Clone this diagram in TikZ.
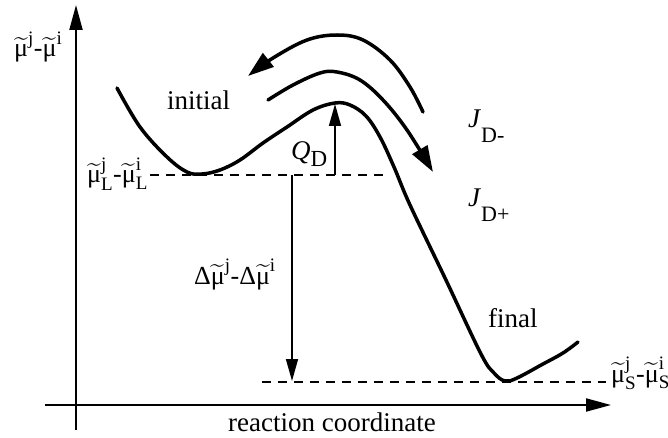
\documentclass[tikz,border=0pt]{standalone}
\usepackage{amsmath}
\usepackage{fontspec}
\setmainfont{Liberation Serif}
\usetikzlibrary{arrows.meta}
\DeclareMathSizes{26}{26}{19}{14}
\DeclareMathSizes{27}{27}{20}{14}
\newcommand{\tmu}{\widetilde{\text{μ}}}
\begin{document}
\begin{tikzpicture}[x=1pt,y=-1pt,
  curve/.style={line width=3.5pt, line cap=round, line join=round},
  bigarrow/.style={curve, -{Triangle[length=26pt,width=17pt]}},
  axis/.style={line width=2pt, -{Triangle[length=25pt,width=13pt]}},
  level/.style={line width=2pt, dash pattern=on 9pt off 7pt},
  thinarrow/.style={line width=1.6pt, -{Triangle[length=22pt,width=12pt]}},
  lbl/.style={inner sep=0pt, anchor=base west},
  word/.style={lbl, font=\fontsize{27}{30}\selectfont},
]
\useasboundingbox (0,0) rectangle (668,438);

% axes
\coordinate (yaxbot) at (76,430);
\coordinate (yaxtop) at (76,5);
\coordinate (xaxl) at (45,405);
\coordinate (xaxr) at (611,405);
\draw[axis] (yaxbot) -- (yaxtop);
\draw[axis] (xaxl) -- (xaxr);

% energy levels
\coordinate (lvlLa) at (150,175);
\coordinate (lvlLb) at (385,175);
\coordinate (lvlSa) at (262,382);
\coordinate (lvlSb) at (606,382);
\draw[level] (lvlLa) -- (lvlLb);
\draw[level] (lvlSa) -- (lvlSb);

% energy curve
\draw[curve] plot[smooth, tension=0.6] coordinates {
  (117,88) (140,127) (167,157) (187,172) (202,174) (220,170) (240,160)
  (263,143) (287,127) (313,110) (335,103) (350,105) (366,116) (380,137)
  (394,167) (410,205) (445,278) (481,354) (494,373) (505,381) (517,378)
  (543,364) (563,353) (578,342)};

% flux arrows
\draw[bigarrow] plot[smooth, tension=0.6] coordinates {
  (268,100) (293,85) (320,73) (337,72) (360,80) (383,100) (407,130) (433,172)};
\draw[bigarrow] plot[smooth, tension=0.6] coordinates {
  (423,112) (410,87) (390,60) (363,40) (337,35) (307,40) (273,58) (248,76)};

% Q_D and Delta arrows
\coordinate (qbase) at (335,175);
\coordinate (qtop) at (335,104);
\draw[thinarrow] (qbase) -- (qtop);
\coordinate (dtop) at (292,175);
\coordinate (dbot) at (292,381);
\draw[thinarrow] (dtop) -- (dbot);

% labels
\node[lbl, font=\fontsize{26}{28}\selectfont] (ylab) at (14,57)
  {$\tmu^{\text{j}}$-$\tmu^{\text{i}}$};
\node[word] (initial) at (167,110) {initial};
\node[word] (final) at (488,327) {final};
\node[word] (xlab) at (228,431) {reaction coordinate};
\node[lbl, font=\fontsize{26}{28}\selectfont] (Llab) at (87,183)
  {$\tmu^{\text{j}}_{\text{L}}$-$\tmu^{\text{i}}_{\text{L}}$};
\node[lbl, font=\fontsize{26}{28}\selectfont] (Slab) at (611,382)
  {$\tmu^{\text{j}}_{\text{S}}$-$\tmu^{\text{i}}_{\text{S}}$};
\node[lbl, font=\fontsize{26}{28}\selectfont] (dlab) at (194,284)
  {Δ$\tmu^{\text{j}}$-Δ$\tmu^{\text{i}}$};
\node[lbl, font=\fontsize{27}{30}\selectfont] (qlab) at (291,160)
  {\textit{Q}\raisebox{-7pt}{\fontsize{23}{25}\selectfont D}};
\node[lbl, font=\fontsize{27}{30}\selectfont] (jm) at (468,128)
  {\textit{J}\raisebox{-15pt}{\fontsize{22}{25}\selectfont D-}};
\node[lbl, font=\fontsize{27}{30}\selectfont] (jp) at (468,207)
  {\textit{J}\raisebox{-15pt}{\fontsize{22}{25}\selectfont D+}};
\end{tikzpicture}
\end{document}
